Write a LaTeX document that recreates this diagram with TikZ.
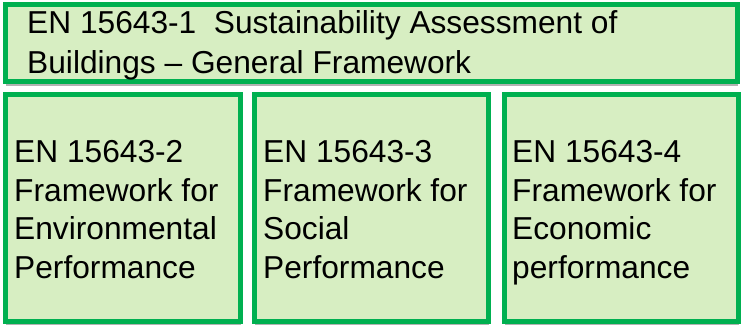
\documentclass[tikz,border=0pt]{standalone}
\usepackage{fontspec}
\setmainfont{Liberation Sans}
\usetikzlibrary{positioning,shadows}

\definecolor{boxgreen}{HTML}{00B050}
\definecolor{boxfill}{HTML}{D7EEC2}

\begin{document}
\begin{tikzpicture}[
    x=1pt, y=-1pt,
    box/.style={draw=boxgreen, line width=5pt, fill=boxfill, inner sep=0pt,
      outer sep=0pt, anchor=north west,
      drop shadow={shadow xshift=0pt, shadow yshift=-4pt, fill=black!30, opacity=1}},
    topbox/.style={box, minimum width=732pt, minimum height=77pt},
    partbox/.style={box, minimum width=235pt, minimum height=227pt},
    toptxt/.style={anchor=north west, inner sep=0pt, align=left,
      font=\fontsize{31.7}{40}\selectfont},
    parttxt/.style={anchor=north west, inner sep=0pt, align=left,
      font=\fontsize{31.7}{38.5}\selectfont}
]
  \useasboundingbox (0,0) rectangle (741,324);

  % riquadri
  \node[topbox] (frame) at (5.5,4.5) {};
  \node[partbox] (env) at (5.5,94.5) {};
  \node[partbox, minimum width=234pt] (soc) at (254.5,94.5) {};
  \node[partbox, minimum width=234pt] (eco) at (504.5,94.5) {};

  % testi
  \node[toptxt] (frametxt) at (27,10.5) {EN 15643-1~~Sustainability Assessment of\\Buildings -- General Framework};
  \node[parttxt] (envtxt) at (14,140.5) {EN 15643-2\\Framework for\\Environmental\\Performance};
  \node[parttxt] (soctxt) at (263,140.5) {EN 15643-3\\Framework for\\Social\\Performance};
  \node[parttxt] (ecotxt) at (512,140.5) {EN 15643-4\\Framework for\\Economic\\performance};

\end{tikzpicture}
\end{document}
